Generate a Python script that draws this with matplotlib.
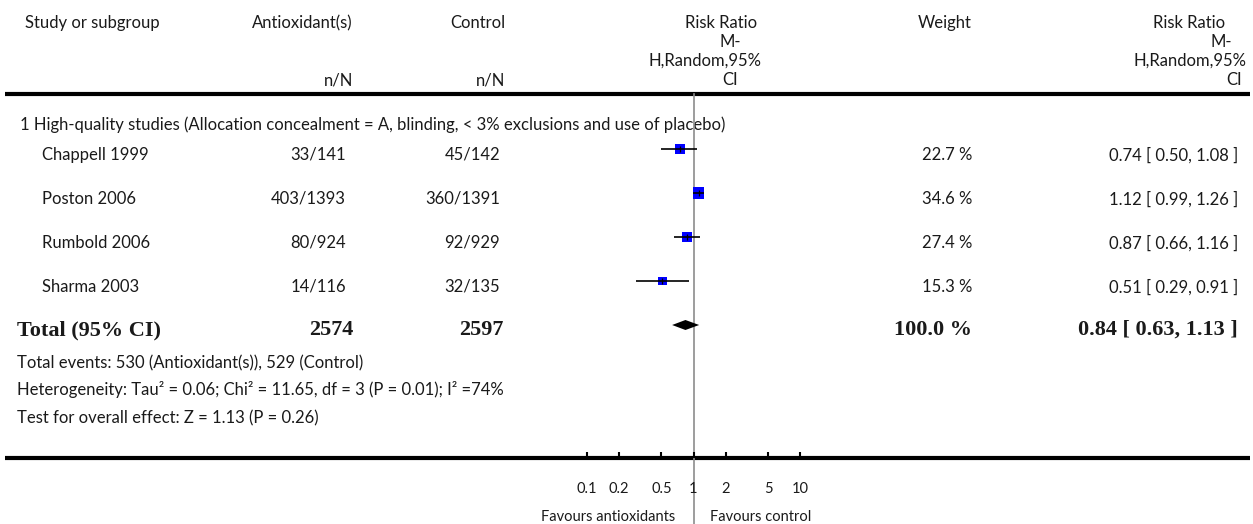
import numpy as np
import matplotlib
matplotlib.use("Agg")
import matplotlib.pyplot as plt

# ---- data -------------------------------------------------------------
studies = ["Chappell 1999", "Poston 2006", "Rumbold 2006", "Sharma 2003"]
antiox_events = [33, 403, 80, 14]
antiox_total = [141, 1393, 924, 116]
control_events = [45, 360, 92, 32]
control_total = [142, 1391, 929, 135]
weights = [22.7, 34.6, 27.4, 15.3]
rr = [0.74, 1.12, 0.87, 0.51]
rr_lo = [0.50, 0.99, 0.66, 0.29]
rr_hi = [1.08, 1.26, 1.16, 0.91]

pooled_rr = 0.84
pooled_lo = 0.63
pooled_hi = 1.13
pooled_weight = 100.0
antiox_sum = 2574
control_sum = 2597

subgroup_label = "1 High-quality studies (Allocation concealment = A, blinding, < 3% exclusions and use of placebo)"
footnotes = [
    "Total events: 530 (Antioxidant(s)), 529 (Control)",
    "Heterogeneity: Tau² = 0.06; Chi² = 11.65, df = 3 (P = 0.01); I² =74%",
    "Test for overall effect: Z = 1.13 (P = 0.26)",
]
tick_values = [0.1, 0.2, 0.5, 1, 2, 5, 10]
tick_labels = ["0.1", "0.2", "0.5", "1", "2", "5", "10"]
favours_left = "Favours antioxidants"
favours_right = "Favours control"

# ---- layout (pixel coordinates) ----------------------------------------
W, H = 1253, 524
SANS = ["Lato", "DejaVu Sans"]
SERIF = ["Liberation Serif", "DejaVu Serif"]
FS = 12
TXT = "#1a1a1a"

fig = plt.figure(figsize=(W / 100, H / 100), dpi=100)
canvas = fig.add_axes([0, 0, 1, 1])
canvas.set_xlim(0, W)
canvas.set_ylim(H, 0)
canvas.axis("off")


def put(x, y, s, ha="left", size=FS, family=SANS, weight="normal", **kw):
    canvas.text(x, y, s, ha=ha, va="center", fontsize=size, family=family,
                fontweight=weight, color=TXT, **kw)


# header
put(25, 23, "Study or subgroup")
put(353, 23, "Antioxidant(s)", ha="right")
put(505, 23, "Control", ha="right")
put(353, 80, "n/N", ha="right")
put(505, 80, "n/N", ha="right")
for y, s, cx in [(23, "Risk Ratio", 721), (42, "M-", 730), (61, "H,Random,95%", 705), (80, "CI", 730)]:
    put(cx, y, s, ha="center")
put(972, 23, "Weight", ha="right")
for y, s, cx in [(23, "Risk Ratio", 1189), (42, "M-", 1221), (61, "H,Random,95%", 1190), (80, "CI", 1234)]:
    put(cx, y, s, ha="center")

top_rule_y = 94
bottom_rule_y = 458
canvas.plot([5, 1250], [top_rule_y, top_rule_y], color="black", lw=3, solid_capstyle="butt")
canvas.plot([5, 1250], [bottom_rule_y, bottom_rule_y], color="black", lw=3, solid_capstyle="butt")

# subgroup and study rows
put(20, 125, subgroup_label)
row0, row_step, text_dy = 149, 44, 6
rows = [row0 + i * row_step for i in range(len(studies))]
for i, y in enumerate(rows):
    ty = y + text_dy
    put(42, ty, studies[i])
    put(346, ty, f"{antiox_events[i]}/{antiox_total[i]}", ha="right")
    put(500, ty, f"{control_events[i]}/{control_total[i]}", ha="right")
    put(972, ty, f"{weights[i]:.1f} %", ha="right")
    put(1238, ty, f"{rr[i]:.2f} [ {rr_lo[i]:.2f}, {rr_hi[i]:.2f} ]", ha="right")

# total row
total_y = 325
bold = dict(size=16, family=SERIF, weight="bold")
put(17, total_y + 5, "Total (95% CI)", **bold)
put(353, total_y + 5, f"{antiox_sum}", ha="right", **bold)
put(504, total_y + 5, f"{control_sum}", ha="right", **bold)
put(972, total_y + 5, f"{pooled_weight:.1f} %", ha="right", **bold)
put(1238, total_y + 5, f"{pooled_rr:.2f} [ {pooled_lo:.2f}, {pooled_hi:.2f} ]", ha="right", **bold)

for y, s in zip([363, 390, 418], footnotes):
    put(17, y, s)

# ---- forest plot on a log-scaled axis ----------------------------------
x0, x1 = 587, 800
ax = fig.add_axes([x0 / W, (H - bottom_rule_y) / H, (x1 - x0) / W, (bottom_rule_y - top_rule_y) / H])
ax.set_xscale("log")
ax.set_xlim(tick_values[0], tick_values[-1])
ax.set_ylim(bottom_rule_y, top_rule_y)
ax.patch.set_visible(False)
for sp in ax.spines.values():
    sp.set_visible(False)
ax.set_yticks([])
ax.set_xticks(tick_values)
ax.set_xticklabels(tick_labels, family=SANS, fontsize=FS - 1.5, color=TXT)
ax.xaxis.set_minor_locator(matplotlib.ticker.NullLocator())
ax.tick_params(axis="x", which="major", direction="in", length=4, width=1.5, pad=17, color="black")

# line of no effect
ax.plot([1, 1], [top_rule_y, H], color="#8c8c8c", lw=1.2, clip_on=False, zorder=1)

# study estimates: square side grows with study weight
side_px = [7 + 0.13 * w for w in weights]
ax.scatter(rr, rows, marker="s", s=[(p * 0.72) ** 2 for p in side_px],
           color="#0000ff", linewidths=0, zorder=3)
ax.hlines(rows, rr_lo, rr_hi, color="black", lw=1.2, zorder=4)
ax.scatter(rr, rows, marker="|", s=16, color="black", linewidths=0.9, zorder=5)

# pooled diamond
half_h = 5
ax.fill([pooled_lo, pooled_rr, pooled_hi, pooled_rr],
        [total_y, total_y - half_h, total_y, total_y + half_h],
        color="black", lw=0, zorder=4)

put(675, 517, favours_left, ha="right", size=FS - 1.5)
put(710, 517, favours_right, ha="left", size=FS - 1.5)

fig.savefig("out.png", dpi=100, facecolor="white")
